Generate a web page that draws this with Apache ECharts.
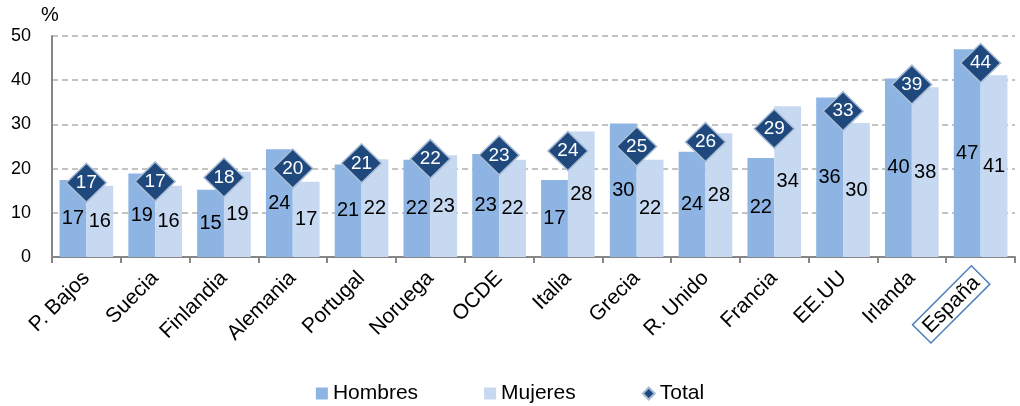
<!DOCTYPE html>
<html>
<head>
<meta charset="utf-8">
<script src="https://cdn.jsdelivr.net/npm/echarts@6/dist/echarts.min.js"></script>
<style>html,body{margin:0;padding:0;background:#fff}#c{width:1020px;height:406px}</style>
</head>
<body>
<div id="c"></div>
<script>
var categories = ['P. Bajos','Suecia','Finlandia','Alemania','Portugal','Noruega','OCDE','Italia','Grecia','R. Unido','Francia','EE.UU','Irlanda','España'];
var hombres = [17.4, 18.9, 15.2, 24.4, 20.9, 22.0, 23.3, 17.4, 30.2, 23.8, 22.4, 36.1, 40.4, 47.0];
var mujeres = [16.1, 16.1, 19.3, 17.0, 22.1, 23.0, 22.0, 28.4, 22.0, 28.0, 34.1, 30.3, 38.4, 41.1];
var total = [16.8, 17.1, 18.0, 20.0, 21.2, 22.2, 23.0, 24.0, 25.0, 26.0, 29.0, 33.0, 39.0, 43.9];
var yTicks = [0, 10, 20, 30, 40, 50];
var highlight = 'España';

var FONT = '"Liberation Sans", Arial, sans-serif';
var chart = echarts.init(document.getElementById('c'), null, {renderer: 'canvas'});
var fmt = function (p) { return Math.round(p.value); };
chart.setOption({
  animation: false,
  textStyle: {fontFamily: FONT},
  graphic: [{type: 'text', left: 41, top: 5, style: {text: '%', font: '20px ' + FONT, fill: '#000'}}],
  grid: {left: 52, right: 5, top: 36, bottom: 149},
  legend: {
    bottom: -3, left: 'center', itemWidth: 12, itemHeight: 12, itemGap: 66,
    textStyle: {fontSize: 21, color: '#000', fontFamily: FONT},
    data: [{name: 'Hombres', icon: 'rect'}, {name: 'Mujeres', icon: 'rect'}, {name: 'Total', icon: 'diamond'}]
  },
  xAxis: {
    type: 'category', data: categories,
    axisLine: {lineStyle: {color: '#868686', width: 2}},
    axisTick: {show: true, alignWithLabel: false, length: 6, lineStyle: {color: '#868686', width: 2}},
    axisLabel: {
      rotate: 45, fontSize: 21, color: '#000', margin: 18, fontFamily: FONT,
      formatter: function (v) { return v === highlight ? '{h|' + v + '}' : v; },
      rich: {h: {fontSize: 21, color: '#000', borderColor: '#4A7EBB', borderWidth: 1.5, padding: [3, 6, 2, 6], fontFamily: FONT}}
    }
  },
  yAxis: {
    type: 'value', min: yTicks[0], max: yTicks[yTicks.length - 1], interval: 10,
    axisLine: {show: true, lineStyle: {color: '#868686', width: 2}},
    axisTick: {show: false},
    axisLabel: {fontSize: 18, color: '#000', margin: 21, fontFamily: FONT},
    splitLine: {lineStyle: {color: '#b0b0b0', type: [6, 4], width: 1.5}}
  },
  series: [
    {name: 'Hombres', type: 'bar', data: hombres, barGap: '0%', barCategoryGap: '22%',
     itemStyle: {color: '#8DB4E2'},
     label: {show: true, position: 'inside', formatter: fmt, fontSize: 20, color: '#000', fontFamily: FONT}},
    {name: 'Mujeres', type: 'bar', data: mujeres,
     itemStyle: {color: '#C6D9F1'},
     label: {show: true, position: 'inside', formatter: fmt, fontSize: 20, color: '#000', fontFamily: FONT}},
    {name: 'Total', type: 'scatter', data: total, symbol: 'diamond', symbolSize: [40, 39], z: 5,
     itemStyle: {color: '#1F497D', opacity: 1, borderColor: '#A8BCD6', borderWidth: 1.5},
     label: {show: true, position: 'inside', formatter: fmt, fontSize: 19, color: '#fff', fontFamily: FONT}}
  ]
});
</script>
</body>
</html>
